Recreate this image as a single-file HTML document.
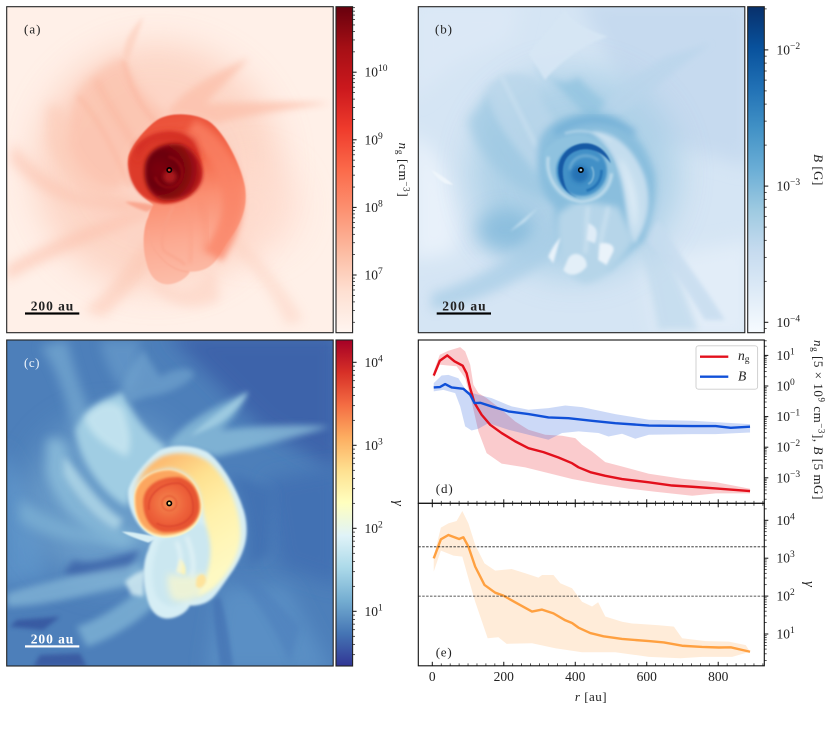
<!DOCTYPE html>
<html lang="en">
<head>
<meta charset="utf-8">
<title>Simulation maps and radial profiles</title>
<style>
html,body{margin:0;padding:0;background:#fff;width:830px;height:732px;overflow:hidden}
svg{display:block}
text{font-family:"Liberation Serif",serif;fill:#222}
</style>
</head>
<body>
<svg id="fig" xmlns="http://www.w3.org/2000/svg" width="830" height="732" viewBox="0 0 830 732">
<defs>
<filter id="b2" x="-30%" y="-30%" width="160%" height="160%"><feGaussianBlur stdDeviation="2"/></filter>
<filter id="b4" x="-30%" y="-30%" width="160%" height="160%"><feGaussianBlur stdDeviation="4"/></filter>
<filter id="b6" x="-40%" y="-40%" width="180%" height="180%"><feGaussianBlur stdDeviation="6"/></filter>
<filter id="b10" x="-40%" y="-40%" width="180%" height="180%"><feGaussianBlur stdDeviation="10"/></filter>
<filter id="b16" x="-60%" y="-60%" width="220%" height="220%"><feGaussianBlur stdDeviation="16"/></filter>
<filter id="b28" x="-60%" y="-60%" width="220%" height="220%"><feGaussianBlur stdDeviation="28"/></filter>
<filter id="b50" x="-80%" y="-80%" width="260%" height="260%"><feGaussianBlur stdDeviation="50"/></filter>
<linearGradient id="aBody" gradientUnits="userSpaceOnUse" x1="470" y1="350" x2="540" y2="850"><stop offset="0" stop-color="#ea4f38"/><stop offset=".28" stop-color="#f4694b"/><stop offset=".5" stop-color="#fb8f72"/><stop offset=".75" stop-color="#fcaa92"/><stop offset="1" stop-color="#fcbda9"/></linearGradient>
<linearGradient id="cBody" gradientUnits="userSpaceOnUse" x1="470" y1="370" x2="680" y2="700"><stop offset="0" stop-color="#fcb56c"/><stop offset=".3" stop-color="#fee08f"/><stop offset=".6" stop-color="#fff1ab"/><stop offset="1" stop-color="#fef9c2"/></linearGradient>
<radialGradient id="aCore" gradientUnits="userSpaceOnUse" cx="480" cy="510" r="125"><stop offset="0" stop-color="#7e050e"/><stop offset=".4" stop-color="#6a020c"/><stop offset=".75" stop-color="#8b0a11"/><stop offset="1" stop-color="#bb191c"/></radialGradient>
<radialGradient id="cCore" gradientUnits="userSpaceOnUse" cx="505" cy="510" r="105"><stop offset="0" stop-color="#f58a50"/><stop offset=".5" stop-color="#ee633b"/><stop offset=".85" stop-color="#e4502f"/><stop offset="1" stop-color="#f3814b"/></radialGradient>
</defs>

<!-- panel a -->
<g>
<svg x="6.7" y="6.7" width="326.5" height="326" viewBox="20 20 980 978" preserveAspectRatio="none">
<rect x="0" y="0" width="1020" height="1020" fill="#fff0e8"/>
<circle cx="470" cy="500" r="370" fill="#fccdbb" opacity=".75" filter="url(#b50)"/>
<circle cx="760" cy="620" r="140" fill="#fedccf" opacity=".7" filter="url(#b50)"/>
<path d="M225,290C260,220 330,190 370,170C385,210 420,290 500,340L480,380C420,420 385,490 385,530C350,610 250,560 200,450C190,400 210,340 225,290Z" fill="#fbbca6" opacity=".6" filter="url(#b16)"/>
<path d="M235,290C300,360 350,470 390,560" fill="none" stroke="#fbb098" stroke-width="16" opacity=".3" filter="url(#b6)"/>
<path d="M290,240C320,310 360,360 400,430" fill="none" stroke="#fbb098" stroke-width="20" opacity=".4" filter="url(#b10)"/>
<path d="M370,180C385,250 420,320 470,370" fill="none" stroke="#fbb49d" stroke-width="16" opacity=".45" filter="url(#b6)"/>
<path d="M140,320C190,300 210,340 200,400C210,500 320,590 400,600L380,625C270,620 170,520 140,420Z" fill="#fcc9b5" opacity=".55" filter="url(#b16)"/>
<path d="M470,625C350,640 150,720 20,800L20,840C150,770 340,690 445,650Z" fill="#fcc0ab" opacity=".6" filter="url(#b16)"/>
<path d="M395,600C300,610 180,600 40,430L30,480C120,600 280,640 450,630Z" fill="#fcc0ab" opacity=".55" filter="url(#b16)"/>
<path d="M375,605C410,605 450,612 475,618L440,635C410,625 390,615 375,605Z" fill="#f99d84" opacity=".8" filter="url(#b4)"/>
<path d="M500,345C530,280 640,220 745,175C700,230 650,270 620,310C700,310 850,300 990,310C850,330 720,350 650,370L560,345Z" fill="#fcbca6" opacity=".65" filter="url(#b10)"/>
<path d="M370,170C370,120 400,80 430,50C420,90 400,140 385,180Z" fill="#fcc9b6" opacity=".55" filter="url(#b6)"/>
<path d="M445,710C380,790 330,880 250,930L310,950C370,900 425,830 460,790Z" fill="#fcc3ae" opacity=".5" filter="url(#b16)"/>
<path d="M700,690C760,760 850,850 910,960L860,975C820,880 750,790 680,730Z" fill="#fcd0bf" opacity=".5" filter="url(#b16)"/>
<path d="M450,800C500,880 570,900 640,800L660,900C580,940 500,920 450,850Z" fill="#fdd5c6" opacity=".7" filter="url(#b16)"/>
<path d="M385,470C395,430 450,370 480,355C510,340 570,335 620,360C670,385 725,500 735,560C742,610 735,660 680,730C660,765 650,780 640,790C620,810 595,815 570,815C560,835 530,853 500,853C470,850 450,830 440,790C425,740 430,680 445,650C450,630 455,625 460,615L430,590C400,560 380,510 385,470Z" fill="url(#aBody)" filter="url(#b2)"/>
<path d="M570,385C650,430 705,530 698,620C693,680 668,720 640,768" fill="none" stroke="#fa8265" stroke-width="62" opacity=".75" filter="url(#b10)"/>
<path d="M520,620C490,680 480,720 490,750C510,770 540,775 555,795" fill="none" stroke="#f9a088" stroke-width="7" opacity=".6" filter="url(#b4)"/>
<path d="M445,690C450,740 470,760 490,780C510,800 540,815 565,815" fill="none" stroke="#f9a790" stroke-width="5" opacity=".6" filter="url(#b2)"/>
<path d="M560,610C570,660 580,710 570,790" fill="none" stroke="#fa9d83" stroke-width="10" opacity=".45" filter="url(#b6)"/>
<path d="M600,600C615,650 625,690 615,750" fill="none" stroke="#f98c70" stroke-width="16" opacity=".4" filter="url(#b10)"/>
<path d="M385,490C390,440 440,392 520,395C570,400 600,440 608,510C605,570 560,612 490,612C420,605 385,550 385,490Z" fill="#dd3a2b" filter="url(#b4)"/>
<path d="M405,440C450,390 520,380 585,415L605,480C560,420 510,415 460,425C430,440 420,460 412,490Z" fill="#d02a24" opacity=".7" filter="url(#b10)"/>
<path d="M435,500C440,450 490,425 540,432C585,445 607,490 606,530C600,575 550,605 490,600C450,590 430,550 435,500Z" fill="url(#aCore)" filter="url(#b6)"/>
<path d="M505,470C550,480 560,530 530,555C505,570 475,560 465,530" fill="none" stroke="#a50f15" stroke-width="8" opacity=".5" filter="url(#b4)"/>
<circle cx="510" cy="530" r="20" fill="#be2420" opacity=".75" filter="url(#b6)"/>
<circle cx="508" cy="510" r="6.5" fill="#cf3a2a" stroke="#000" stroke-width="5"/>
</svg>
<rect x="6.7" y="6.7" width="326.5" height="326" fill="none" stroke="#222" stroke-width="1.1"/>
<text x="24" y="33.5" font-size="13" textLength="16.5">(a)</text>
<text x="30.7" y="310.5" font-size="13.5" font-weight="bold" textLength="42.6">200 au</text>
<rect x="25" y="312.4" width="54.3" height="2.2" fill="#000"/>
</g>

<!-- panel b -->
<g>
<svg x="418.3" y="6.7" width="326.5" height="326" viewBox="20 20 980 978" preserveAspectRatio="none">
<rect x="0" y="0" width="1020" height="1020" fill="#d5e5f4"/>
<path d="M500,0L1020,0L1020,500L720,420Z" fill="#c6daef" filter="url(#b28)"/>
<path d="M0,400C90,450 160,600 130,760L0,780Z" fill="#e8f1fa" filter="url(#b28)"/>
<path d="M700,780L1020,720L1020,1020L740,1020Z" fill="#e2edf8" filter="url(#b28)"/>
<path d="M0,0L330,0L300,120L120,200L0,300Z" fill="#dbe8f6" filter="url(#b28)"/>
<circle cx="490" cy="520" r="310" fill="#a0cae3" opacity=".75" filter="url(#b50)"/>
<ellipse cx="280" cy="690" rx="85" ry="65" fill="#86bbdc" opacity=".85" filter="url(#b28)"/>
<path d="M60,880C200,840 360,740 440,640L470,720C400,800 250,900 60,930Z" fill="#a8cde6" opacity=".75" filter="url(#b16)"/>
<path d="M170,360C180,440 280,560 400,600L420,560C320,480 260,360 240,260Z" fill="#9cc8e2" opacity=".7" filter="url(#b16)"/>
<path d="M230,260C280,200 340,220 370,240C380,300 420,350 450,390C400,420 390,480 380,520C310,430 230,360 230,260Z" fill="#b9d6ea" opacity=".8" filter="url(#b10)"/>
<path d="M270,230C300,290 340,370 375,440" fill="none" stroke="#cfe3f2" stroke-width="12" opacity=".6" filter="url(#b6)"/>
<path d="M385,210C420,230 500,330 530,350L640,360C600,320 520,260 500,230C450,270 400,230 380,180Z" fill="#93c4e0" opacity=".8" filter="url(#b10)"/>
<path d="M450,40C410,100 370,130 350,160L400,240C440,190 520,130 590,110C520,90 480,60 460,30Z" fill="#d6e6f4" opacity=".9" filter="url(#b4)"/>
<path d="M620,350C720,280 800,200 900,130L760,170C680,220 590,280 560,340Z" fill="#b9d5eb" opacity=".7" filter="url(#b10)"/>
<path d="M660,690C700,780 720,880 740,990L860,990C810,860 780,760 720,680Z" fill="#bdd8eb" opacity=".7" filter="url(#b10)"/>
<path d="M740,660C800,760 880,860 940,960L880,960C820,860 760,770 700,720Z" fill="#c6dcef" opacity=".8" filter="url(#b6)"/>
<path d="M60,510C80,520 110,540 125,555L100,550C85,540 70,530 60,510Z" fill="#eef5fb" filter="url(#b2)"/>
<path d="M295,695C330,660 370,630 378,625L340,665Z" fill="#c6e0f0" filter="url(#b4)"/>
<path d="M380,450C380,380 450,340 540,335C640,350 700,420 730,520C740,600 715,660 700,720L590,810L440,740L430,620C400,600 370,540 380,450Z" fill="#84bbdc" opacity=".85" filter="url(#b10)"/>
<path d="M440,640C425,720 445,830 520,850C580,840 620,800 670,720L620,620L500,600Z" fill="#b6d5e9" filter="url(#b10)"/>
<path d="M530,620C520,680 530,720 520,760M590,620C580,680 560,720 570,770" fill="none" stroke="#d7e8f4" stroke-width="10" opacity=".7" filter="url(#b6)"/>
<path d="M470,775C490,745 530,770 525,800C500,830 470,830 455,810Z" fill="#e3eff8" filter="url(#b4)"/>
<path d="M565,730C590,725 612,735 605,755L585,795L560,780Z" fill="#eaf3fa" filter="url(#b4)"/>
<path d="M530,670C560,680 560,700 550,730L525,720Z" fill="#dfecf7" filter="url(#b4)"/>
<path d="M410,770C425,735 440,720 447,712L425,790Z" fill="#e8f2fa" filter="url(#b4)"/>
<path d="M540,395C610,390 670,450 700,530C722,600 712,670 670,730C640,700 650,590 620,510C600,450 570,420 540,395Z" fill="#c4ddee" filter="url(#b6)"/>
<path d="M625,470C665,530 690,600 672,700C655,640 650,560 625,490Z" fill="#e2eff8" opacity=".8" filter="url(#b10)"/>
<path d="M430,400C500,345 600,345 670,400" fill="none" stroke="#5ea3d0" stroke-width="18" opacity=".55" filter="url(#b10)"/>
<path d="M395,460C390,530 420,590 490,612C560,615 600,580 612,510C600,450 560,410 500,405C450,410 410,430 395,460Z" fill="#8fc2df" filter="url(#b4)"/>
<path d="M410,470C400,540 450,600 510,605C565,600 595,565 600,520" fill="none" stroke="#cfe4f1" stroke-width="9" opacity=".75" filter="url(#b4)"/>
<path d="M460,400C510,385 560,395 600,425" fill="none" stroke="#cfe4f1" stroke-width="7" opacity=".5" filter="url(#b4)"/>
<circle cx="510" cy="512" r="76" fill="#4290c7" filter="url(#b4)"/>
<path d="M445,540C425,480 470,425 530,430C565,435 590,460 598,490C570,450 520,435 480,460C450,480 448,520 462,560C470,580 490,592 510,595C480,592 455,570 445,540Z" fill="#125aa5" filter="url(#b2)"/>
<path d="M475,510C480,465 530,455 562,482" fill="none" stroke="#7ab5d9" stroke-width="8" opacity=".75" filter="url(#b4)"/>
<path d="M570,510C570,545 550,565 525,572" fill="none" stroke="#1e6db2" stroke-width="8" opacity=".8" filter="url(#b2)"/>
<path d="M540,500C552,520 545,545 530,552" fill="none" stroke="#8cc0dd" stroke-width="5" opacity=".8" filter="url(#b2)"/>
<circle cx="505" cy="522" r="26" fill="#1d69af" opacity=".75" filter="url(#b6)"/>
<circle cx="508" cy="510" r="6.5" fill="#9cc7e2" stroke="#000" stroke-width="5"/>
</svg>
<rect x="418.3" y="6.7" width="326.5" height="326" fill="none" stroke="#222" stroke-width="1.1"/>
<text x="435" y="33.5" font-size="13" textLength="17">(b)</text>
<text x="442.3" y="310.5" font-size="13.5" font-weight="bold" textLength="43.4">200 au</text>
<rect x="436.7" y="312.4" width="54.3" height="2.2" fill="#000"/>
</g>

<!-- panel c -->
<g>
<svg x="6.7" y="340" width="326.5" height="326" viewBox="20 20 980 978" preserveAspectRatio="none">
<rect x="0" y="0" width="1020" height="1020" fill="#4d7fba"/>
<path d="M500,0L1020,0L1020,420L780,280Z" fill="#3c63aa" filter="url(#b28)"/>
<path d="M800,440L1020,400L1020,760L840,700Z" fill="#4271b3" filter="url(#b28)"/>
<path d="M690,420C740,500 760,620 740,700L810,660L820,470Z" fill="#4372b3" filter="url(#b16)"/>
<path d="M660,760L860,760L1000,1020L620,1020Z" fill="#5a8fc5" filter="url(#b28)"/>
<path d="M0,340C60,420 120,560 140,740L0,760Z" fill="#5b92c8" filter="url(#b28)"/>
<circle cx="330" cy="500" r="250" fill="#82b4d6" opacity=".55" filter="url(#b50)"/>
<path d="M120,40C170,100 200,200 220,290L270,240C240,160 220,100 200,20Z" fill="#78abd2" opacity=".7" filter="url(#b16)"/>
<path d="M300,20C310,90 350,150 380,190L420,130L420,20Z" fill="#6fa3cf" opacity=".55" filter="url(#b16)"/>
<path d="M220,680C280,700 360,660 420,650L380,720C320,720 240,740 190,720Z" fill="#3b62a8" opacity=".8" filter="url(#b10)"/>
<path d="M50,860L180,850L130,890L30,880Z" fill="#35559f" opacity=".85" filter="url(#b6)"/>
<path d="M120,965L240,960L260,1000L100,1000Z" fill="#37569f" opacity=".85" filter="url(#b6)"/>
<path d="M660,790C680,850 690,930 700,1000L660,1000C650,920 640,860 640,800Z" fill="#3f6db0" opacity=".6" filter="url(#b6)"/>
<path d="M700,720C770,800 830,890 870,990L900,880C820,790 770,740 720,700Z" fill="#4d7fbc" opacity=".6" filter="url(#b10)"/>
<path d="M20,780C150,740 340,700 430,690L420,750C300,770 150,820 20,820Z" fill="#88bad9" opacity=".7" filter="url(#b10)"/>
<path d="M230,880C300,860 400,790 440,750L470,810C400,880 320,920 260,940Z" fill="#7fb3d5" opacity=".8" filter="url(#b10)"/>
<path d="M375,745C395,725 425,710 437,708L430,790L395,785Z" fill="#cce7f0" opacity=".9" filter="url(#b6)"/>
<path d="M140,320C190,300 210,340 200,400C210,500 320,590 400,600L380,640C270,620 170,520 140,420Z" fill="#8cbedb" opacity=".8" filter="url(#b16)"/>
<path d="M60,500C120,530 200,600 380,600L440,630C300,640 130,620 60,560Z" fill="#7fb3d5" opacity=".7" filter="url(#b16)"/>
<path d="M365,595C400,595 440,605 478,612L445,628C420,620 390,610 365,595Z" fill="#d8eff5" filter="url(#b2)"/>
<path d="M225,290C250,220 330,190 370,175C385,210 420,290 500,340L480,380C420,420 385,470 385,520C330,500 240,400 225,290Z" fill="#a0cde3" filter="url(#b10)"/>
<path d="M255,250C300,200 350,200 370,230C390,290 400,330 380,370C320,340 260,300 255,250Z" fill="#c9e7f1" opacity=".8" filter="url(#b10)"/>
<path d="M190,370C230,400 280,500 370,560L350,590C280,560 210,470 190,420Z" fill="#b4dae9" opacity=".8" filter="url(#b10)"/>
<path d="M370,160C380,120 400,90 430,50L480,130C550,90 590,110 580,130C540,170 470,190 440,190L385,210Z" fill="#6fa2cd" opacity=".7" filter="url(#b10)"/>
<path d="M500,345C530,280 640,220 745,175C720,230 690,270 660,290C760,280 880,270 990,280C860,320 730,350 650,370L560,345Z" fill="#8fc2dc" opacity=".75" filter="url(#b10)"/>
<path d="M570,310C620,260 680,220 745,175C720,220 680,260 640,280Z" fill="#a9d4e6" opacity=".7" filter="url(#b6)"/>
<path d="M385,470C395,430 450,370 480,350C510,335 570,330 620,355C670,385 730,500 738,560C745,610 738,660 684,733C660,768 650,782 640,792C620,812 595,817 570,817C560,838 530,856 500,856C470,853 450,833 440,790C425,740 430,680 445,650C450,630 455,625 460,612L430,590C400,560 380,510 385,470Z" fill="#d6eef5" filter="url(#b4)"/>
<path d="M480,620C455,680 450,740 470,790C490,820 530,830 555,800C600,800 640,780 660,730C690,700 700,650 700,620L600,570Z" fill="#cbe7f0" filter="url(#b6)"/>
<path d="M400,480C410,430 450,385 490,368C540,352 590,360 625,385C680,430 720,520 722,600C722,650 700,700 660,745C640,770 615,780 590,790C630,720 640,660 625,600C615,560 610,540 605,510C600,450 560,410 510,405C450,410 405,440 400,490Z" fill="url(#cBody)" filter="url(#b6)"/>
<path d="M505,720C530,730 560,730 610,720L630,760C600,795 560,810 520,800C505,780 500,750 505,720Z" fill="#fbf8cc" opacity=".7" filter="url(#b10)"/>
<path d="M590,735C602,715 620,720 618,745C610,765 592,770 588,755Z" fill="#fee39b" filter="url(#b4)"/>
<path d="M540,675C555,690 560,705 555,725L530,715Z" fill="#fdf4b6" filter="url(#b4)"/>
<path d="M560,610C580,660 585,700 575,730M530,625C545,660 545,690 535,720" stroke="#e9f6f8" stroke-width="8" fill="none" filter="url(#b6)"/>
<path d="M402,490C405,445 445,408 510,408C565,415 600,455 608,515C607,575 560,615 490,613C420,605 400,550 402,490Z" fill="#fff8c6" filter="url(#b2)"/>
<path d="M405,490C408,447 447,410 510,410C562,417 596,457 602,515C601,570 556,606 490,606C424,600 403,550 405,490Z" fill="#fca65f" filter="url(#b4)"/>
<path d="M430,500C436,450 488,428 540,432C585,445 600,490 598,530C592,575 550,600 490,596C450,588 428,550 430,500Z" fill="url(#cCore)" filter="url(#b4)"/>
<path d="M447,530C440,480 490,445 540,450C570,465 585,500 578,540C560,575 510,590 470,570" fill="none" stroke="#d73f2c" stroke-width="6" opacity=".6" filter="url(#b2)"/>
<circle cx="508" cy="510" r="22" fill="none" stroke="#e35432" stroke-width="5" opacity=".6" filter="url(#b2)"/>
<circle cx="508" cy="510" r="6.5" fill="#fde08c" stroke="#000" stroke-width="5"/>
</svg>
<rect x="6.7" y="340" width="326.5" height="326" fill="none" stroke="#222" stroke-width="1.1"/>
<text x="24" y="367" font-size="13" textLength="15.5" style="fill:#eef4fa">(c)</text>
<text x="30.7" y="643.5" font-size="13.5" font-weight="bold" textLength="42.6" style="fill:#fff">200 au</text>
<rect x="25" y="645.3" width="54.3" height="2.2" fill="#fff"/>
</g>

<!-- text labels -->
<text transform="translate(399,170) rotate(90)" font-size="13" letter-spacing=".7" text-anchor="middle"><tspan font-style="italic">n</tspan><tspan font-size="9" dy="2">g</tspan><tspan dy="-2"> [cm</tspan><tspan font-size="9" dy="-4.5">−3</tspan><tspan dy="4.5">]</tspan></text>
<text transform="translate(814,170) rotate(90)" font-size="13" letter-spacing=".5" text-anchor="middle"><tspan font-style="italic">B</tspan> [G]</text>
<text transform="translate(394,503) rotate(90)" font-size="14.5" text-anchor="middle" font-style="italic">γ</text>
<text transform="translate(805,584) rotate(90)" font-size="14.5" text-anchor="middle" font-style="italic">γ</text>
<text transform="translate(814,420) rotate(90)" font-size="13" letter-spacing=".55" text-anchor="middle"><tspan font-style="italic">n</tspan><tspan font-size="9" dy="2">g</tspan><tspan dy="-2"> [5 × 10</tspan><tspan font-size="9" dy="-4.5">9</tspan><tspan dy="4.5"> cm</tspan><tspan font-size="9" dy="-4.5">−3</tspan><tspan dy="4.5">], </tspan><tspan font-style="italic">B</tspan> [5 mG]</text>
<text x="591" y="701" font-size="13" letter-spacing=".5" text-anchor="middle"><tspan font-style="italic">r</tspan> [au]</text>

<g id="charts"></g>
</svg>

<script>
// Panel (d) data: gas density profile
const ngR = [4,21,42,62,85,96,106,118,138,162,194,232,269,311,353,391,409,442,484,531,606,671,727,793,889];
const ngValues = [2.2,6.7,10,6.4,4.6,2.6,0.85,0.28,0.115,0.054,0.029,0.0155,0.0093,0.0069,0.0046,0.003,0.0022,0.00153,0.00116,0.00091,0.00071,0.00056,0.00051,0.00045,0.00037];
const ngHighR = [4,21,45,78,92,106,115,129,152,194,232,269,316,363,400,419,447,484,531,606,699,793,889];
const ngHigh = [3.0,10.5,14.2,18.7,13.5,5.0,1.1,0.59,0.40,0.167,0.0695,0.037,0.0255,0.0236,0.0198,0.012,0.00726,0.00325,0.00234,0.00135,0.00093,0.00072,0.00044];
const ngLowR = [4,21,40,68,92,110,129,152,194,260,325,391,465,550,624,727,793,889];
const ngLow = [1.8,5,4.7,4.4,1.8,0.31,0.033,0.0064,0.0029,0.0022,0.00142,0.00091,0.00063,0.00044,0.00035,0.00026,0.00031,0.00031];
// Panel (d) data: magnetic field profile
const bR = [4,21,36,54,87,106,118,134,166,213,269,325,381,447,512,606,727,793,835,889];
const bValues = [0.9,0.92,1.16,0.9,0.81,0.52,0.276,0.283,0.215,0.148,0.121,0.094,0.089,0.073,0.061,0.051,0.049,0.049,0.043,0.0467];
const bHighR = [4,26,45,73,96,129,166,222,269,325,372,419,512,606,727,793,889];
const bHigh = [1.24,2.2,2.3,1.8,0.67,0.52,0.40,0.215,0.167,0.19,0.23,0.204,0.121,0.079,0.073,0.066,0.057];
const bLowR = [4,31,64,78,92,110,129,157,213,269,325,363,409,465,493,531,568,606,727,793,889];
const bLow = [0.665,0.75,0.586,0.215,0.048,0.035,0.04,0.061,0.037,0.0255,0.0175,0.029,0.033,0.029,0.0224,0.0275,0.0188,0.0255,0.0268,0.0268,0.0303];
// Panel (e) data: gamma profile
const gR = [4,24,45,75,87,101,120,146,176,199,232,279,307,339,372,391,409,442,479,531,606,648,699,755,802,835,889];
const gValues = [990,3150,4100,3210,3560,2020,600,197,123,103,68.5,39,44,35,23,19.5,14.7,10.6,8.7,7.4,6.5,6.0,4.9,4.55,4.4,4.45,3.4];
const gHighR = [4,24,45,68,84,101,120,146,176,222,260,297,307,339,358,391,419,447,464,484,531,559,634,676,699,765,830,877,889];
const gHigh = [1100,6400,8300,9600,17600,8300,2240,730,470,520,400,307,361,361,218,161,71,53,69,29,21,19,17,15.6,7.7,6.5,6.3,5.1,3.4];
const gLowR = [4,24,59,84,101,120,155,185,208,279,344,419,512,606,694,755,839,889];
const gLow = [443,1580,1170,1100,295,71,7.7,8.2,5.5,5.7,4.2,3.3,3.3,2.5,2.3,2.5,2.5,3.4];
const gammaLevels = [2000,100];
// Tick labels
const xTicks = [0,200,400,600,800];
const dTicks = [1,0,-1,-2,-3];
const eTicks = [4,3,2,1];
const densityTicks = [10,9,8,7];
const fieldTicks = [-2,-3,-4];
const gammaTicks = [4,3,2,1];
// Colormaps
const redsMap = ['#fff5f0','#fee0d2','#fcbba1','#fc9272','#fb6a4a','#ef3b2c','#cb181d','#a50f15','#67000d'];
const bluesMap = ['#f7fbff','#deebf7','#c6dbef','#9ecae1','#6baed6','#4292c6','#2171b5','#08519c','#08306b'];
const spectralMap = ['#313695','#4575b4','#74add1','#abd9e9','#e0f3f8','#ffffbf','#fee090','#fdae61','#f46d43','#d73027','#a50026'];

const NS = 'http://www.w3.org/2000/svg';
const root = document.getElementById('charts');
const defs = document.querySelector('#fig defs');
function make(tag, attrs, parent) {
  const el = document.createElementNS(NS, tag);
  for (const k in attrs) el.setAttribute(k, attrs[k]);
  (parent || root).appendChild(el);
  return el;
}
function logAxis(anchorDecade, anchorPx, pxPerDecade) {
  return v => anchorPx - (Math.log10(v) - anchorDecade) * pxPerDecade;
}
const xAxis = r => 432.3 + r * 0.3574;
const yD = logAxis(0, 386, 30.6);
const yE = logAxis(1, 634, 37.9);
const yCa = logAxis(7, 275, 67.6);
const yCb = logAxis(-4, 322.3, 136.2);
const yCc = logAxis(1, 611.3, 83);

function powerLabel(x, y, exp, name) {
  const t = make('text', {x: x, y: y + 4.5, 'font-size': 13.5});
  
  
  t.appendChild(document.createTextNode('10'));
  const s = make('tspan', {'font-size': 9.5, dy: -5.5}, t);
  s.textContent = String(exp).replace('-', '−');
}
function yTicks(rightX, scale, decades, top, bottom, labelX, prefix) {
  const lo = Math.min(...decades) - 2;
  const hi = Math.max(...decades) + 1;
  for (let d = lo; d <= hi; d++) {
    for (let m = 1; m < 10; m++) {
      const px = scale(m * Math.pow(10, d));
      if (px < top || px > bottom) continue;
      const tick = make('line', {x1: rightX, x2: rightX + (m === 1 ? 4 : 2.4), y1: px, y2: px, stroke: '#111', 'stroke-width': m === 1 ? 1 : 0.7});
      
      
    }
  }
  decades.forEach(d => powerLabel(labelX, scale(Math.pow(10, d)), d, prefix + '-tick-label'));
}
function colorbar(id, colors, x, y, w, h, name) {
  const g = make('linearGradient', {id: id, x1: 0, y1: 1, x2: 0, y2: 0}, defs);
  colors.forEach((c, i) => make('stop', {offset: i / (colors.length - 1), 'stop-color': c}, g));
  const bar = make('rect', {x: x, y: y, width: w, height: h, fill: 'url(#' + id + ')', stroke: '#222', 'stroke-width': 1.1});
  
  
}
colorbar('redsBar', redsMap, 336, 6.7, 16.6, 326, 'density-colorbar');
colorbar('bluesBar', bluesMap, 747.7, 6.7, 16.6, 326, 'magnetic-colorbar');
colorbar('spectralBar', spectralMap, 336, 340, 16.6, 326, 'gamma-colorbar');
yTicks(352.6, yCa, densityTicks, 6.7, 332.7, 364.5, 'density-colorbar');
yTicks(764.3, yCb, fieldTicks, 6.7, 332.7, 776.5, 'magnetic-colorbar');
yTicks(352.6, yCc, gammaTicks, 340, 666, 364.5, 'gamma-colorbar');

function band(xsHigh, high, xsLow, low, scale, color, opacity, name) {
  const pts = [];
  xsHigh.forEach((r, i) => pts.push(xAxis(r).toFixed(2) + ',' + scale(high[i]).toFixed(2)));
  for (let i = xsLow.length - 1; i >= 0; i--) pts.push(xAxis(xsLow[i]).toFixed(2) + ',' + scale(low[i]).toFixed(2));
  const p = make('polygon', {points: pts.join(' '), fill: color, 'fill-opacity': opacity});
  
  
}
function line(xs, ys, scale, color, name) {
  const pts = xs.map((r, i) => xAxis(r).toFixed(2) + ',' + scale(ys[i]).toFixed(2)).join(' ');
  const p = make('polyline', {points: pts, fill: 'none', stroke: color, 'stroke-width': 2.4, 'stroke-linejoin': 'round'});
  
  
}
band(ngHighR, ngHigh, ngLowR, ngLow, yD, '#e8141c', 0.22, 'density-range-band');
band(bHighR, bHigh, bLowR, bLow, yD, '#1550dc', 0.22, 'magnetic-range-band');
line(ngR, ngValues, yD, '#e3101c', 'density-line');
line(bR, bValues, yD, '#1050d8', 'magnetic-line');
band(gHighR, gHigh, gLowR, gLow, yE, '#ffa040', 0.2, 'gamma-range-band');
line(gR, gValues, yE, '#ffa040', 'gamma-line');
gammaLevels.forEach(v => {
  const l = make('line', {x1: 418.3, x2: 764.3, y1: yE(v), y2: yE(v), stroke: '#222', 'stroke-width': 0.8, 'stroke-dasharray': '2.5 1.4'});
  
  
});

// Axes frames
const dFrame = make('rect', {x: 418.3, y: 340, width: 346, height: 163.3, fill: 'none', stroke: '#111', 'stroke-width': 1.1});


const eFrame = make('rect', {x: 418.3, y: 503.3, width: 346, height: 162.5, fill: 'none', stroke: '#111', 'stroke-width': 1.1});


yTicks(764.3, yD, dTicks, 340, 503.3, 776.5, 'profile-d');
yTicks(764.3, yE, eTicks, 503.3, 665.8, 776.5, 'profile-e');

// x ticks (25 au minor spacing, inward on each shared axis)
for (let i = 0; 432.3 + i * 25 * 0.3574 < 764; i++) {
  const r = i * 25;
  const major = r % 200 === 0;
  const len = major ? 4 : 2.4;
  [[503.3, -len], [503.3, len], [665.8, -len]].forEach(pair => {
    const t = make('line', {x1: xAxis(r), x2: xAxis(r), y1: pair[0], y2: pair[0] + pair[1], stroke: '#111', 'stroke-width': major ? 1 : 0.7});
    
    
  });
}
xTicks.forEach(v => {
  const t = make('text', {x: xAxis(v), y: 681, 'font-size': 13.5, 'text-anchor': 'middle'});
  
  
  t.textContent = v;
});

// Panel letters
const labelD = make('text', {x: 435.7, y: 493, 'font-size': 13, textLength: 17});


labelD.textContent = '(d)';
const labelE = make('text', {x: 435.7, y: 656.5, 'font-size': 13, textLength: 16});


labelE.textContent = '(e)';

// Legend
const legendBox = make('rect', {x: 696, y: 345.8, width: 61.6, height: 43.4, rx: 2.5, fill: '#fff', 'fill-opacity': 0.85, stroke: '#ccc', 'stroke-width': 0.9});


const legendLineN = make('line', {x1: 700, x2: 728.3, y1: 356.7, y2: 356.7, stroke: '#e3101c', 'stroke-width': 2.4});


const legendLineB = make('line', {x1: 700, x2: 728.3, y1: 376.7, y2: 376.7, stroke: '#1050d8', 'stroke-width': 2.4});


const legendN = make('text', {x: 738, y: 360, 'font-size': 13.5});


make('tspan', {'font-style': 'italic'}, legendN).textContent = 'n';
make('tspan', {'font-size': 9.5, dy: 2}, legendN).textContent = 'g';
const legendB = make('text', {x: 738, y: 380.5, 'font-size': 13.5, 'font-style': 'italic'});


legendB.textContent = 'B';
</script>
</body>
</html>
